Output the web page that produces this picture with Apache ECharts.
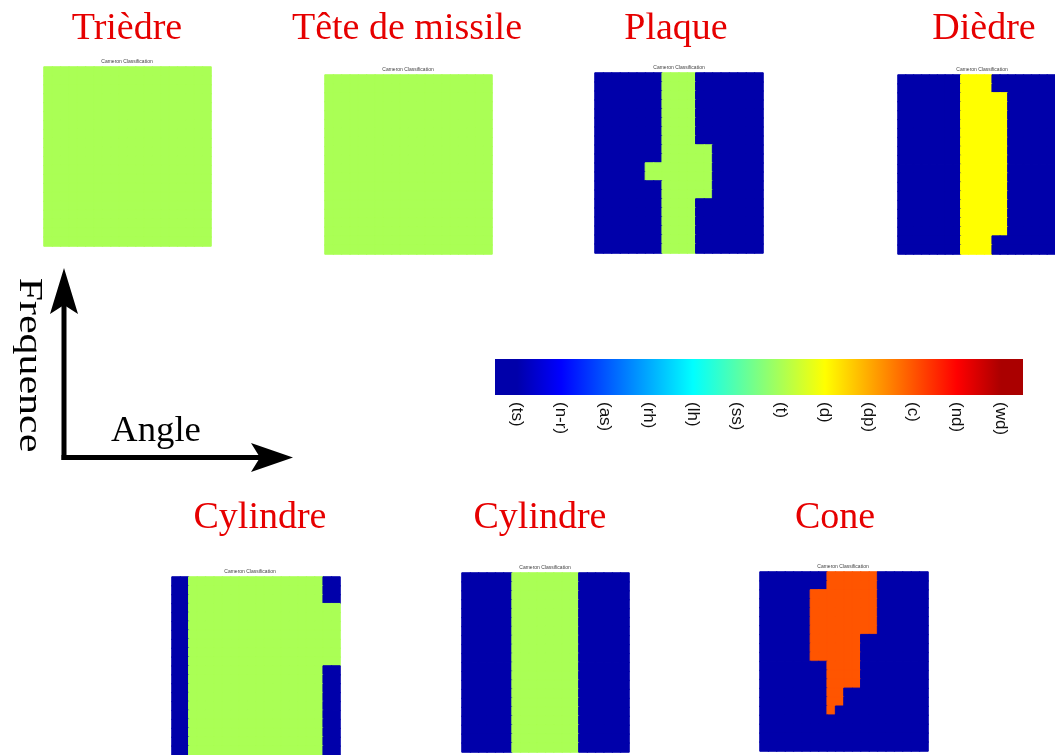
<!DOCTYPE html>
<html><head><meta charset="utf-8">
<script src="https://cdn.jsdelivr.net/npm/echarts@6/dist/echarts.min.js"></script>
<style>html,body{margin:0;padding:0;background:#fff}#c{width:1055px;height:755px}</style>
</head><body><div id="c"></div>
<script>
// ---- Data ----
const classLabels = ['(ts)','(n-r)','(as)','(rh)','(lh)','(ss)','(t)','(d)','(dp)','(c)','(nd)','(wd)'];
const classColors = ['#0000AA','#0000FF','#0055FF','#00AAFF','#00FFFF','#55FFAA','#AAFF55','#FFFF00','#FFAA00','#FF5500','#FF0000','#AA0000'];
const panelTitles = ['Trièdre','Tête de missile','Plaque','Dièdre','Cylindre','Cylindre','Cone'];
const subTitle = 'Cameron Classification';
const axisNames = ['Frequence','Angle'];
// class maps: rows top->bottom (frequency), columns left->right (angle); char = class index in base 12
const mapTriedre = [
'66666666666666666666','66666666666666666666','66666666666666666666','66666666666666666666',
'66666666666666666666','66666666666666666666','66666666666666666666','66666666666666666666',
'66666666666666666666','66666666666666666666','66666666666666666666','66666666666666666666',
'66666666666666666666','66666666666666666666','66666666666666666666','66666666666666666666',
'66666666666666666666','66666666666666666666','66666666666666666666','66666666666666666666'];
const mapTeteMissile = [
'66666666666666666666','66666666666666666666','66666666666666666666','66666666666666666666',
'66666666666666666666','66666666666666666666','66666666666666666666','66666666666666666666',
'66666666666666666666','66666666666666666666','66666666666666666666','66666666666666666666',
'66666666666666666666','66666666666666666666','66666666666666666666','66666666666666666666',
'66666666666666666666','66666666666666666666','66666666666666666666','66666666666666666666'];
const mapPlaque = [
'00000000666600000000','00000000666600000000','00000000666600000000','00000000666600000000',
'00000000666600000000','00000000666600000000','00000000666600000000','00000000666600000000',
'00000000666666000000','00000000666666000000','00000066666666000000','00000066666666000000',
'00000000666666000000','00000000666666000000','00000000666600000000','00000000666600000000',
'00000000666600000000','00000000666600000000','00000000666600000000','00000000666600000000'];
const mapDiedre = [
'00000000777700000000','00000000777700000000','00000000777777000000','00000000777777000000',
'00000000777777000000','00000000777777000000','00000000777777000000','00000000777777000000',
'00000000777777000000','00000000777777000000','00000000777777000000','00000000777777000000',
'00000000777777000000','00000000777777000000','00000000777777000000','00000000777777000000',
'00000000777777000000','00000000777777000000','00000000777700000000','00000000777700000000'];
const mapCylindre1 = [
'00666666666666666600','00666666666666666600','00666666666666666600','00666666666666666666',
'00666666666666666666','00666666666666666666','00666666666666666666','00666666666666666666',
'00666666666666666666','00666666666666666666','00666666666666666600','00666666666666666600',
'00666666666666666600','00666666666666666600','00666666666666666600','00666666666666666600',
'00666666666666666600','00666666666666666600','00666666666666666600','00666666666666666600'];
const mapCylindre2 = [
'00000066666666000000','00000066666666000000','00000066666666000000','00000066666666000000',
'00000066666666000000','00000066666666000000','00000066666666000000','00000066666666000000',
'00000066666666000000','00000066666666000000','00000066666666000000','00000066666666000000',
'00000066666666000000','00000066666666000000','00000066666666000000','00000066666666000000',
'00000066666666000000','00000066666666000000','00000066666666000000','00000066666666000000'];
const mapCone = [
'00000000999999000000','00000000999999000000','00000099999999000000','00000099999999000000',
'00000099999999000000','00000099999999000000','00000099999999000000','00000099999900000000',
'00000099999900000000','00000099999900000000','00000000999900000000','00000000999900000000',
'00000000999900000000','00000000990000000000','00000000990000000000','00000000900000000000',
'00000000000000000000','00000000000000000000','00000000000000000000','00000000000000000000'];

// ---- Layout ----
const maps = [mapTriedre, mapTeteMissile, mapPlaque, mapDiedre, mapCylindre1, mapCylindre2, mapCone];
const panels = [
  {l:44,  t:67,  w:167, h:179, tx:127, ty:29, sx:127},
  {l:325, t:75,  w:167, h:179, tx:407, ty:29, sx:408},
  {l:595, t:73,  w:168, h:180, tx:676, ty:29, sx:679},
  {l:898, t:75,  w:168, h:179, tx:984, ty:29, sx:982},
  {l:172, t:577, w:168, h:179, tx:260, ty:518, sx:250},
  {l:462, t:573, w:167, h:179, tx:540, ty:518, sx:545},
  {l:760, t:572, w:168, h:179, tx:835, ty:518, sx:843}
];
const SERIF = '"Liberation Serif","Times New Roman",serif';
const SANS = '"Liberation Sans",Arial,sans-serif';

const grid = [], xAxis = [], yAxis = [], series = [], graphic = [];
maps.forEach((m, p) => {
  const L = panels[p];
  const nC = m[0].length, nR = m.length;
  const data = [];
  m.forEach((row, r) => {
    for (let c = 0; c < row.length; c++) {
      const v = parseInt(row[c], 12);
      const col = classColors[v];
      data.push({value: [c, r, v], itemStyle: {color: col, borderColor: col, borderWidth: 1}});
    }
  });
  grid.push({left: L.l, top: L.t, width: L.w, height: L.h, show: false});
  xAxis.push({type: 'category', gridIndex: p, data: Array.from({length: nC}, (_, i) => i), show: false});
  yAxis.push({type: 'category', gridIndex: p, data: Array.from({length: nR}, (_, i) => i), show: false, inverse: true});
  series.push({type: 'heatmap', xAxisIndex: p, yAxisIndex: p, data, silent: true,
    emphasis: {disabled: true}, progressive: 0});
  graphic.push({type: 'text', x: L.tx, y: L.ty, silent: true,
    style: {text: panelTitles[p], fill: '#e60000', font: '38px ' + SERIF, align: 'center', verticalAlign: 'middle'}});
  graphic.push({type: 'text', x: L.sx, y: L.t - 5.5, silent: true,
    style: {text: subTitle, fill: '#444', font: '5px ' + SANS, align: 'center', verticalAlign: 'middle'}});
});

// colour bar
const stops = [{offset: 0, color: classColors[0]}];
classColors.forEach((c, i) => stops.push({offset: (i + 0.5) / classColors.length, color: c}));
stops.push({offset: 1, color: classColors[classColors.length - 1]});
grid.push({left: 495, top: 359, width: 528, height: 36, show: true, borderWidth: 0,
  backgroundColor: new echarts.graphic.LinearGradient(0, 0, 1, 0, stops)});
xAxis.push({type: 'category', gridIndex: 7, data: classLabels, position: 'bottom',
  axisLine: {show: false}, axisTick: {show: false}, splitLine: {show: false},
  axisLabel: {interval: 0, rotate: -90, margin: 7, fontSize: 17, color: '#111', fontFamily: SANS}});
yAxis.push({type: 'value', gridIndex: 7, show: false, min: 0, max: 1});

// axes arrows
graphic.push(
  {type: 'line', shape: {x1: 64, y1: 460, x2: 64, y2: 300}, style: {stroke: '#000', lineWidth: 5}},
  {type: 'polygon', shape: {points: [[64, 268], [50, 314], [64, 305], [78, 314]]}, style: {fill: '#000'}},
  {type: 'line', shape: {x1: 61.5, y1: 457.5, x2: 262, y2: 457.5}, style: {stroke: '#000', lineWidth: 5}},
  {type: 'polygon', shape: {points: [[293, 457.5], [251, 443], [260, 457.5], [251, 472]]}, style: {fill: '#000'}},
  {type: 'text', x: 29, y: 365, rotation: -Math.PI / 2, scaleX: 1.27, silent: true,
    style: {text: axisNames[0], fill: '#000', font: '33px ' + SERIF, align: 'center', verticalAlign: 'middle'}},
  {type: 'text', x: 156, y: 432, scaleX: 1.05, silent: true,
    style: {text: axisNames[1], fill: '#000', font: '35px ' + SERIF, align: 'center', verticalAlign: 'middle'}}
);

const chart = echarts.init(document.getElementById('c'), null, {renderer: 'canvas'});
chart.setOption({
  animation: false,
  backgroundColor: '#fff',
  grid, xAxis, yAxis, series, graphic
});
</script></body></html>
